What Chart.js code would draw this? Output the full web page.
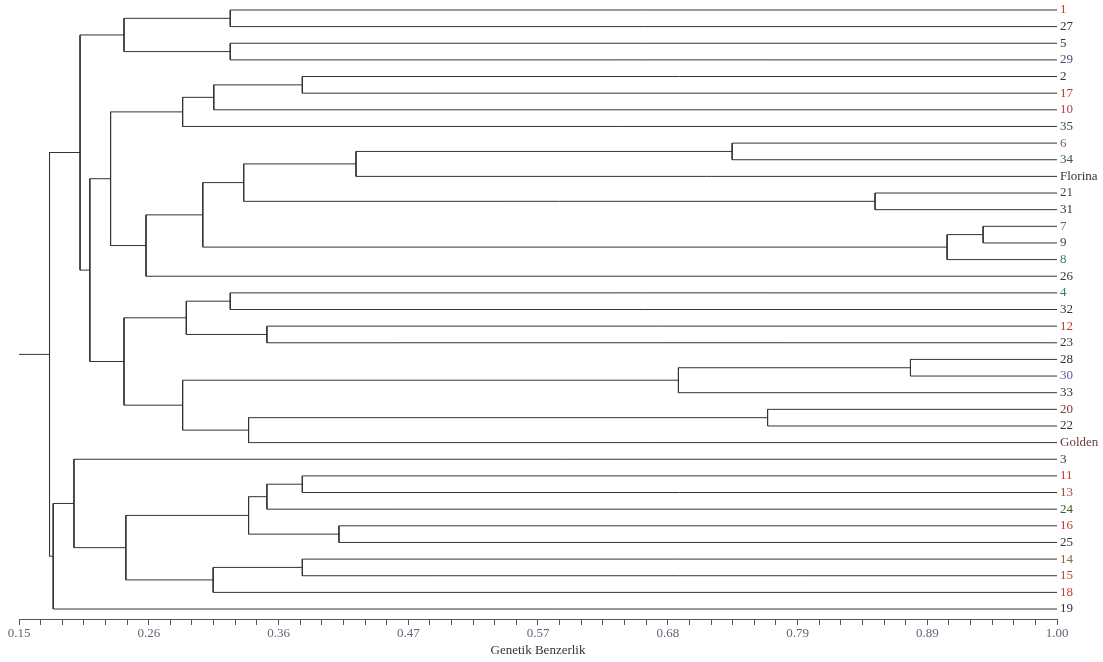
<!DOCTYPE html>
<html>
<head>
<meta charset="utf-8">
<script src="https://cdn.jsdelivr.net/npm/chart.js@4/dist/chart.umd.min.js"></script>
<style>
  body { margin: 0; background: white; }
  #wrap { width: 1103px; height: 662px; position: relative; }
</style>
</head>
<body>
<div id="wrap"><canvas id="tree_canvas"></canvas></div>
<script>
// leaf order, top to bottom
const leaves = ['1', '27', '5', '29', '2', '17', '10', '35', '6', '34', 'Florina', '21', '31',
  '7', '9', '8', '26', '4', '32', '12', '23', '28', '30', '33', '20', '22', 'Golden',
  '3', '11', '13', '24', '16', '25', '14', '15', '18', '19']

const leafColors = ['#cc3a2a', '#333', '#333', '#4a4a78', '#333', '#c0392b', '#b84444', '#444',
  '#86566a', '#445544', '#333', '#5a3a3a', '#333', '#666', '#553355', '#4a7878', '#333',
  '#3a786a', '#333', '#c0392b', '#333', '#333', '#5a5aa0', '#333', '#783a3a', '#333', '#6a3a3a',
  '#333', '#cc3a2a', '#a04848', '#3a5a2a', '#c0392b', '#333', '#886a3a', '#c04030', '#c04030', '#333']

// merges: [child a, child b, similarity], node n<i> is merge i
const merges = [
  ['1', '27', 0.323],
  ['5', '29', 0.323],
  ['n0', 'n1', 0.236],
  ['2', '17', 0.382],
  ['n3', '10', 0.3095],
  ['n4', '35', 0.284],
  ['6', '34', 0.734],
  ['n6', 'Florina', 0.426],
  ['21', '31', 0.851],
  ['n7', 'n8', 0.334],
  ['7', '9', 0.9395],
  ['n10', '8', 0.910],
  ['n9', 'n11', 0.3005],
  ['n12', '26', 0.254],
  ['n5', 'n13', 0.225],
  ['4', '32', 0.323],
  ['12', '23', 0.353],
  ['n15', 'n16', 0.287],
  ['28', '30', 0.880],
  ['n18', '33', 0.690],
  ['20', '22', 0.763],
  ['n20', 'Golden', 0.338],
  ['n19', 'n21', 0.284],
  ['n17', 'n22', 0.236],
  ['n14', 'n23', 0.208],
  ['n2', 'n24', 0.200],
  ['11', '13', 0.382],
  ['n26', '24', 0.353],
  ['16', '25', 0.412],
  ['n27', 'n28', 0.338],
  ['14', '15', 0.382],
  ['n30', '18', 0.309],
  ['n29', 'n31', 0.2375],
  ['3', 'n32', 0.195],
  ['n33', '19', 0.178],
  ['n25', 'n34', 0.175]
]

const tickLabels = ['0.15', '0.26', '0.36', '0.47', '0.57', '0.68', '0.79', '0.89', '1.00']
const X_MIN = 0.15
const X_MAX = 1.00
const MINOR_PER_MAJOR = 6

// walk merges into line segments (null breaks the line)
function buildSegments() {
  let pos = {}
  leaves.forEach((name, i) => { pos[name] = { x: X_MAX, y: i } })
  let pts = []
  merges.forEach((m, i) => {
    let a = pos[m[0]]
    let b = pos[m[1]]
    let h = m[2]
    pts.push({ x: a.x, y: a.y }, { x: h, y: a.y }, { x: h, y: b.y }, { x: b.x, y: b.y }, { x: h, y: null })
    pos['n' + i] = { x: h, y: (a.y + b.y) / 2 }
  })
  let root = pos['n' + (merges.length - 1)]
  pts.push({ x: X_MIN, y: root.y }, { x: root.x, y: root.y })
  return pts
}

const serif = { family: '"Liberation Serif", "DejaVu Serif", serif', size: 13 }

let ctx = document.getElementById('tree_canvas').getContext('2d')
let chart = new Chart(ctx, {
  type: 'line',
  data: {
    datasets: [{
      data: buildSegments(),
      borderColor: '#333',
      borderWidth: 1,
      pointRadius: 0,
      spanGaps: false,
      tension: 0
    }]
  },
  options: {
    responsive: true,
    maintainAspectRatio: false,
    animation: false,
    events: [],
    layout: { padding: { left: 19, top: 0, right: 0, bottom: 0 } },
    plugins: { legend: { display: false }, tooltip: { enabled: false } },
    scales: {
      x: {
        type: 'linear',
        position: 'bottom',
        min: X_MIN,
        max: X_MAX,
        afterBuildTicks: (scale) => {
          let n = (tickLabels.length - 1) * MINOR_PER_MAJOR
          let ticks = []
          for (let k = 0; k <= n; k++) ticks.push({ value: X_MIN + k * (X_MAX - X_MIN) / n })
          scale.ticks = ticks
        },
        afterFit: (scale) => { scale.height = 43 },
        ticks: {
          autoSkip: false,
          maxRotation: 0,
          padding: 1,
          color: '#6a6078',
          font: serif,
          callback: (v, i) => i % MINOR_PER_MAJOR == 0 ? tickLabels[i / MINOR_PER_MAJOR] : ''
        },
        grid: { drawOnChartArea: false, tickLength: 6, color: '#555' },
        border: { display: true, color: '#555' },
        title: { display: true, text: 'Genetik Benzerlik', color: '#333', font: serif, padding: { top: 0, bottom: 4 } }
      },
      y: {
        type: 'linear',
        position: 'right',
        reverse: true,
        min: -0.6,
        max: leaves.length - 0.4,
        afterBuildTicks: (scale) => {
          scale.ticks = leaves.map((_, i) => ({ value: i }))
        },
        afterFit: (scale) => {
          scale.width = 46
          scale.paddingTop = 0
          scale.paddingBottom = 0
        },
        ticks: {
          autoSkip: false,
          padding: 3,
          font: serif,
          color: (c) => leafColors[c.index] || '#333',
          callback: (v) => leaves[v]
        },
        grid: { display: false, drawTicks: false },
        border: { display: false }
      }
    }
  }
})
</script>
</body>
</html>
